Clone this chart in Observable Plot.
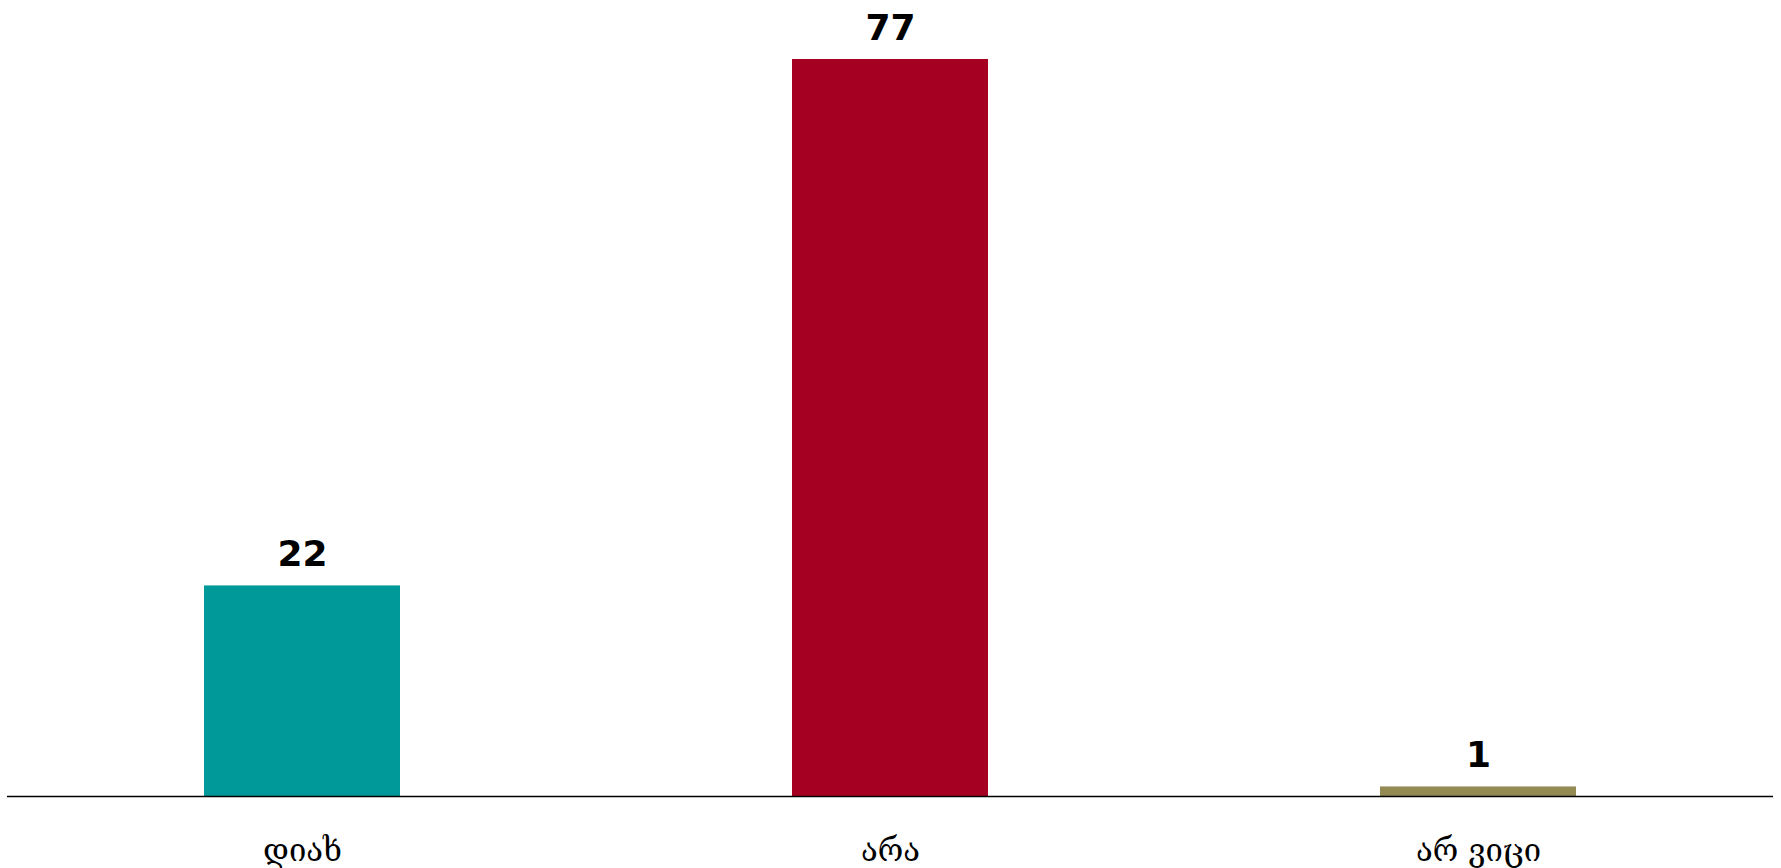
<!DOCTYPE html>
<html>
<head>
<meta charset="utf-8">
<script src="https://cdn.jsdelivr.net/npm/d3@7"></script>
<script src="https://cdn.jsdelivr.net/npm/@observablehq/plot@0.6"></script>
<style>
  html, body { margin: 0; padding: 0; background: #fff; }
  #chart svg { display: block; }
</style>
</head>
<body>
<div id="chart"></div>
<script>
const categories = ["დიახ", "არა", "არ ვიცი"];
const values = [22, 77, 1];
const colors = ["#009999", "#A50021", "#948A54"];

const data = categories.map((c, i) => ({category: c, value: values[i], color: colors[i]}));

const chart = Plot.plot({
  width: 1781,
  height: 868,
  marginLeft: 7,
  marginRight: 8,
  marginTop: 59,
  marginBottom: 72,
  style: {fontFamily: "DejaVu Sans", background: "#fff", color: "#000"},
  x: {domain: categories, paddingInner: 0.667, paddingOuter: 0.333, label: null},
  y: {domain: [0, 77], axis: null},
  marks: [
    Plot.barY(data, {x: "category", y: "value", fill: "color"}),
    Plot.ruleY([0], {stroke: "#000", strokeWidth: 1.5}),
    Plot.text(data, {x: "category", y: "value", text: d => String(d.value), lineAnchor: "bottom", dy: -20, fontSize: 36, fontWeight: "bold", fill: "#000"}),
    Plot.axisX({tickSize: 0, tickPadding: 42, fontSize: 31, fontFamily: "DejaVu Serif", label: null})
  ]
});
document.getElementById("chart").appendChild(chart);
</script>
</body>
</html>
